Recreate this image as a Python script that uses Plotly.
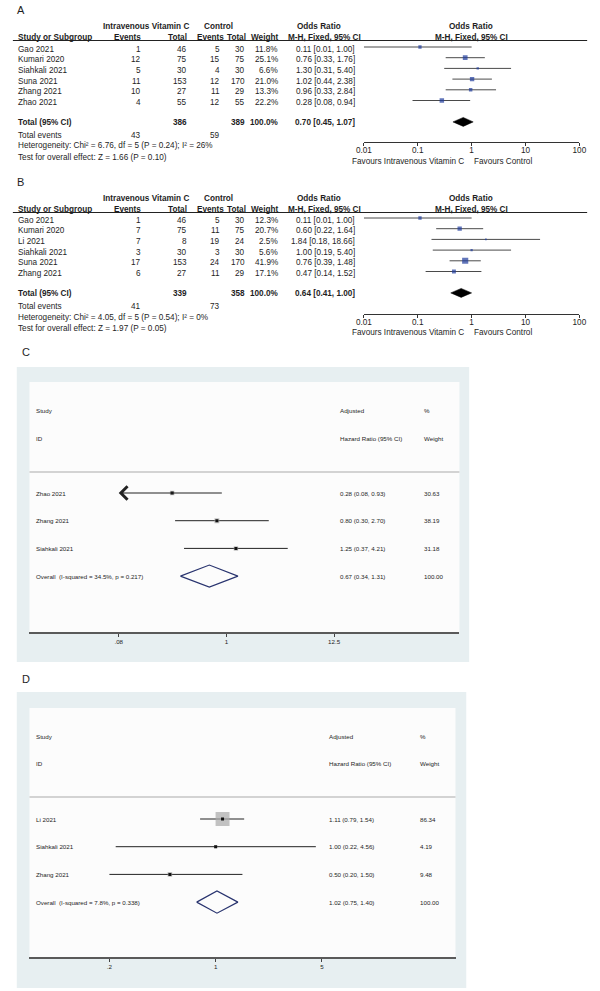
import math
import plotly.graph_objects as go

# ---------------- Panel A data ----------------
a_studies = ["Gao 2021", "Kumari 2020", "Siahkali 2021", "Suna 2021", "Zhang 2021", "Zhao 2021"]
a_iv_events = [1, 12, 5, 11, 10, 4]
a_iv_total = [46, 75, 30, 153, 27, 55]
a_ct_events = [5, 15, 4, 12, 11, 12]
a_ct_total = [30, 75, 30, 170, 29, 55]
a_weight = [11.8, 25.1, 6.6, 21.0, 13.3, 22.2]
a_or = [0.11, 0.76, 1.30, 1.02, 0.96, 0.28]
a_lo = [0.01, 0.33, 0.31, 0.44, 0.33, 0.08]
a_hi = [1.00, 1.76, 5.40, 2.38, 2.84, 0.94]
a_totals = [386, 389]
a_total_weight = 100.0
a_pooled = [0.70, 0.45, 1.07]
a_total_events = [43, 59]
a_het = "Heterogeneity: Chi² = 6.76, df = 5 (P = 0.24); I² = 26%"
a_test = "Test for overall effect: Z = 1.66 (P = 0.10)"

# ---------------- Panel B data ----------------
b_studies = ["Gao 2021", "Kumari 2020", "Li 2021", "Siahkali 2021", "Suna 2021", "Zhang 2021"]
b_iv_events = [1, 7, 7, 3, 17, 6]
b_iv_total = [46, 75, 8, 30, 153, 27]
b_ct_events = [5, 11, 19, 3, 24, 11]
b_ct_total = [30, 75, 24, 30, 170, 29]
b_weight = [12.3, 20.7, 2.5, 5.6, 41.9, 17.1]
b_or = [0.11, 0.60, 1.84, 1.00, 0.76, 0.47]
b_lo = [0.01, 0.22, 0.18, 0.19, 0.39, 0.14]
b_hi = [1.00, 1.64, 18.66, 5.40, 1.48, 1.52]
b_totals = [339, 358]
b_total_weight = 100.0
b_pooled = [0.64, 0.41, 1.00]
b_total_events = [41, 73]
b_het = "Heterogeneity: Chi² = 4.05, df = 5 (P = 0.54); I² = 0%"
b_test = "Test for overall effect: Z = 1.97 (P = 0.05)"

rm_ticks = [0.01, 0.1, 1, 10, 100]
rm_ticktext = ["0.01", "0.1", "1", "10", "100"]

# ---------------- Panel C data ----------------
c_studies = ["Zhao 2021", "Zhang 2021", "Siahkali 2021"]
c_hr = [0.28, 0.80, 1.25]
c_lo = [0.08, 0.30, 0.37]
c_hi = [0.93, 2.70, 4.21]
c_weight = [30.63, 38.19, 31.18]
c_left_arrow = [True, False, False]
c_overall_label = "Overall\u00a0\u00a0(I-squared = 34.5%, p = 0.217)"
c_pooled = [0.67, 0.34, 1.31]
c_overall_weight = 100.00
c_ticks = [0.08, 1, 12.5]
c_ticktext = [".08", "1", "12.5"]

# ---------------- Panel D data ----------------
d_studies = ["Li 2021", "Siahkali 2021", "Zhang 2021"]
d_hr = [1.11, 1.00, 0.50]
d_lo = [0.79, 0.22, 0.20]
d_hi = [1.54, 4.56, 1.50]
d_weight = [86.34, 4.19, 9.48]
d_left_arrow = [False, False, False]
d_overall_label = "Overall\u00a0\u00a0(I-squared = 7.8%, p = 0.338)"
d_pooled = [1.02, 0.75, 1.40]
d_overall_weight = 100.00
d_ticks = [0.2, 1, 5]
d_ticktext = [".2", "1", "5"]

# ---------------- helpers ----------------
W, H = 600, 991
FONT = "Liberation Sans, Arial, sans-serif"
TXT = "#1e1e1e"
BLUE = "#1f3c9c"
FS = 8.2
FS2 = 6.2


def X(p):
    return p / W


def Y(p):
    return 1 - p / H


fig = go.Figure()
ann = []
shapes = []
axes = {}


def txt(x, y, s, size=FS, anchor="left", bold=False, xref="paper", yref="paper", yshift=0):
    if bold:
        s = "<b>" + s + "</b>"
    ann.append(dict(x=x, y=y, xref=xref, yref=yref, text=s, showarrow=False,
                    xanchor=anchor, yanchor="middle", yshift=yshift,
                    font=dict(family=FONT, size=size, color=TXT)))


def names(n):
    s = "" if n == 1 else str(n)
    return "x" + s, "y" + s, "xaxis" + s, "yaxis" + s


def revman(n, g, label, studies, ie, it, ce, ct, wt, orv, lo, hi, tot, totw, pooled, tev, het, test):
    xr, yr, xk, yk = names(n)
    top = (g["line"] - g["row0"]) / g["step"]
    bot = (g["axis"] - g["row0"]) / g["step"]
    axes[xk] = dict(domain=[X(365), X(586)], type="log", range=[-2, 2], anchor=yr,
                    tickvals=rm_ticks, ticktext=rm_ticktext, ticks="outside", ticklen=3,
                    tickcolor="#333", showline=True, linecolor="#333", linewidth=1,
                    showgrid=False, zeroline=False, ticklabelstandoff=-3,
                    tickfont=dict(family=FONT, size=FS, color=TXT))
    axes[yk] = dict(domain=[Y(g["axis"]), Y(g["line"])], range=[bot, top], visible=False)
    nrow = len(studies)
    pr = nrow + 1
    xs, ys = [], []
    for i in range(nrow):
        xs += [lo[i], hi[i], None]
        ys += [i, i, None]
    fig.add_trace(go.Scatter(x=xs, y=ys, mode="lines", line=dict(color="#4a4a4a", width=1),
                             xaxis=xr, yaxis=yr, hoverinfo="skip"))
    fig.add_trace(go.Scatter(x=orv, y=list(range(nrow)), mode="markers",
                             marker=dict(symbol="square", color=BLUE, line=dict(width=0),
                                         size=[max(1.8, 0.95 * math.sqrt(w)) for w in wt]),
                             xaxis=xr, yaxis=yr, hoverinfo="skip"))
    e, l, h = pooled
    dh = 0.42
    fig.add_trace(go.Scatter(x=[l, e, h, e, l], y=[pr, pr - dh, pr, pr + dh, pr], mode="lines",
                             fill="toself", fillcolor="black", line=dict(color="black", width=0.5),
                             xaxis=xr, yaxis=yr, hoverinfo="skip"))
    shapes.append(dict(type="line", xref=xr, yref=yr + " domain", x0=0, x1=0, y0=0, y1=1,
                       line=dict(color="#222", width=1)))
    shapes.append(dict(type="line", xref="paper", yref="paper", x0=X(5), x1=X(594),
                       y0=Y(g["line"]), y1=Y(g["line"]), line=dict(color="#222", width=1)))
    txt(X(7), Y(g["label"]), label, size=11)
    h1 = Y(g["h1"])
    txt(X(142), h1, "Intravenous Vitamin C", anchor="center", bold=True)
    txt(X(216), h1, "Control", anchor="center", bold=True)
    txt(X(319), h1, "Odds Ratio", anchor="center", bold=True)
    txt(X(475), h1, "Odds Ratio", anchor="center", bold=True)
    h2 = Y(g["h2"])
    txt(X(8), h2, "Study or Subgroup", bold=True)
    txt(X(138), h2, "Events", anchor="right", bold=True)
    txt(X(186), h2, "Total", anchor="right", bold=True)
    txt(X(224), h2, "Events", anchor="right", bold=True)
    txt(X(246), h2, "Total", anchor="right", bold=True)
    txt(X(279), h2, "Weight", anchor="right", bold=True)
    txt(X(325), h2, "M-H, Fixed, 95% CI", anchor="center", bold=True)
    txt(X(475), h2, "M-H, Fixed, 95% CI", anchor="center", bold=True)
    for i in range(nrow):
        kw = dict(xref="paper", yref=yr, yshift=-2)
        txt(X(8), i, studies[i], **kw)
        txt(X(138), i, str(ie[i]), anchor="right", **kw)
        txt(X(186), i, str(it[i]), anchor="right", **kw)
        txt(X(220), i, str(ce[i]), anchor="right", **kw)
        txt(X(245), i, str(ct[i]), anchor="right", **kw)
        txt(X(279), i, f"{wt[i]:.1f}%", anchor="right", **kw)
        txt(X(358), i, f"{orv[i]:.2f} [{lo[i]:.2f}, {hi[i]:.2f}]", anchor="right", **kw)
    kw = dict(xref="paper", yref=yr, yshift=-1)
    txt(X(8), pr, "Total (95% CI)", bold=True, **kw)
    txt(X(186), pr, str(tot[0]), anchor="right", bold=True, **kw)
    txt(X(245), pr, str(tot[1]), anchor="right", bold=True, **kw)
    txt(X(279), pr, f"{totw:.1f}%", anchor="right", bold=True, **kw)
    txt(X(358), pr, f"{e:.2f} [{l:.2f}, {h:.2f}]", anchor="right", bold=True, **kw)
    txt(X(8), Y(g["tev"]), "Total events")
    txt(X(138), Y(g["tev"]), str(tev[0]), anchor="right")
    txt(X(220), Y(g["tev"]), str(tev[1]), anchor="right")
    txt(X(8), Y(g["het"]), het)
    txt(X(8), Y(g["test"]), test)
    txt(X(410), Y(g["fav"]), "Favours Intravenous Vitamin C", anchor="center")
    txt(X(508), Y(g["fav"]), "Favours Control", anchor="center")


def stata(n, g, label, studies, hr, lo, hi, wt, arrows, overall, pooled, ow, ticks, ticktext):
    xr, yr, xk, yk = names(n)
    top = (g["sep"] - g["row0"]) / g["step"]
    bot = (g["axis"] - g["row0"]) / g["step"]
    axes[xk] = dict(domain=[X(g["inner"][0]), X(g["inner"][2])], type="log", range=g["xrange"],
                    anchor=yr, tickvals=ticks, ticktext=ticktext, ticks="outside", ticklen=3,
                    tickcolor="#444", tickwidth=1, showline=True, linecolor="#5a5a5a", linewidth=1.5,
                    showgrid=False, zeroline=False,
                    tickfont=dict(family=FONT, size=FS2, color=TXT))
    axes[yk] = dict(domain=[Y(g["axis"]), Y(g["sep"])], range=[bot, top], visible=False)
    o = g["outer"]
    inn = g["inner"]
    shapes.append(dict(type="rect", xref="paper", yref="paper", x0=X(o[0]), x1=X(o[2]),
                       y0=Y(o[3]), y1=Y(o[1]), fillcolor="#e7eff1", line=dict(width=0), layer="below"))
    shapes.append(dict(type="rect", xref="paper", yref="paper", x0=X(inn[0]), x1=X(inn[2]),
                       y0=Y(inn[3]), y1=Y(inn[1]), fillcolor="#fcfcfc", line=dict(width=0), layer="below"))
    shapes.append(dict(type="line", xref="paper", yref="paper", x0=X(inn[0]), x1=X(inn[2]),
                       y0=Y(g["sep"]), y1=Y(g["sep"]), line=dict(color="#d3d3d3", width=1.8), layer="below"))
    shapes.append(dict(type="line", xref=xr, yref=yr + " domain", x0=0, x1=0, y0=0, y1=1,
                       line=dict(color="#666", width=1.4), layer="below"))
    e, l, h = pooled
    shapes.append(dict(type="line", xref=xr, yref=yr + " domain", x0=math.log10(e), x1=math.log10(e),
                       y0=0, y1=1, line=dict(color="#cc2a36", width=1, dash="2px,2px"), layer="below"))
    nrow = len(studies)
    xs, ys = [], []
    for i in range(nrow):
        if arrows[i]:
            ann.append(dict(x=math.log10(ticks[0]), y=i, xref=xr, yref=yr, axref=xr, ayref=yr,
                            ax=math.log10(hi[i]), ay=i, text="", showarrow=True, arrowhead=4,
                            arrowsize=2.6, arrowwidth=1, arrowcolor="#222", standoff=0))
        else:
            xs += [lo[i], hi[i], None]
            ys += [i, i, None]
    fig.add_trace(go.Scatter(x=xs, y=ys, mode="lines", line=dict(color="#222", width=1),
                             xaxis=xr, yaxis=yr, hoverinfo="skip"))
    fig.add_trace(go.Scatter(x=hr, y=list(range(nrow)), mode="markers",
                             marker=dict(symbol="square", color="#a9a9a9", line=dict(width=0),
                                         size=[g["box"] * math.sqrt(w) for w in wt]),
                             xaxis=xr, yaxis=yr, hoverinfo="skip"))
    fig.add_trace(go.Scatter(x=hr, y=list(range(nrow)), mode="markers",
                             marker=dict(symbol="square", color="#111", size=3, line=dict(width=0)),
                             xaxis=xr, yaxis=yr, hoverinfo="skip"))
    pr = nrow
    dh = 0.4
    fig.add_trace(go.Scatter(x=[l, e, h, e, l], y=[pr, pr - dh, pr, pr + dh, pr], mode="lines",
                             line=dict(color="#29346f", width=1.2), xaxis=xr, yaxis=yr, hoverinfo="skip"))
    txt(X(12), Y(g["label"]), label, size=11)
    txt(X(27), Y(g["h1"]), "Study", size=FS2)
    txt(X(27), Y(g["h2"]), "ID", size=FS2)
    txt(X(g["es_x"]), Y(g["h1"]), "Adjusted", size=FS2)
    txt(X(g["es_x"]), Y(g["h2"]), "Hazard Ratio (95% CI)", size=FS2)
    txt(X(g["wt_x"]), Y(g["h1"]), "%", size=FS2)
    txt(X(g["wt_x"]), Y(g["h2"]), "Weight", size=FS2)
    for i in range(nrow):
        txt(X(27), i, studies[i], size=FS2, yref=yr)
        txt(X(g["es_x"]), i, f"{hr[i]:.2f} ({lo[i]:.2f}, {hi[i]:.2f})", size=FS2, yref=yr)
        txt(X(g["wt_x"]), i, f"{wt[i]:.2f}", size=FS2, yref=yr)
    txt(X(27), pr, overall, size=FS2, yref=yr)
    txt(X(g["es_x"]), pr, f"{e:.2f} ({l:.2f}, {h:.2f})", size=FS2, yref=yr)
    txt(X(g["wt_x"]), pr, f"{ow:.2f}", size=FS2, yref=yr)


geoA = dict(label=10, h1=26, h2=37, line=40.5, row0=47, step=10.7, axis=142, tev=135, het=146,
            test=157, fav=161)
geoB = dict(label=182, h1=198, h2=209, line=212.5, row0=218, step=10.7, axis=314, tev=306, het=317,
            test=329, fav=332)
geoC = dict(label=352, outer=(9, 367, 473, 662), inner=(22, 382, 463, 632), sep=472, row0=493,
            step=27.7, axis=632, xrange=[-2.006, 2.373], h1=410, h2=438, es_x=338, wt_x=425, box=0.8)
geoD = dict(label=679, outer=(9, 692, 470, 988), inner=(22, 708, 459, 957), sep=797, row0=819,
            step=27.7, axis=957, xrange=[-1.225, 1.578], h1=736, h2=763, es_x=327, wt_x=420, box=1.5)

revman(1, geoA, "A", a_studies, a_iv_events, a_iv_total, a_ct_events, a_ct_total, a_weight,
       a_or, a_lo, a_hi, a_totals, a_total_weight, a_pooled, a_total_events, a_het, a_test)
revman(2, geoB, "B", b_studies, b_iv_events, b_iv_total, b_ct_events, b_ct_total, b_weight,
       b_or, b_lo, b_hi, b_totals, b_total_weight, b_pooled, b_total_events, b_het, b_test)
stata(3, geoC, "C", c_studies, c_hr, c_lo, c_hi, c_weight, c_left_arrow, c_overall_label,
      c_pooled, c_overall_weight, c_ticks, c_ticktext)
stata(4, geoD, "D", d_studies, d_hr, d_lo, d_hi, d_weight, d_left_arrow, d_overall_label,
      d_pooled, d_overall_weight, d_ticks, d_ticktext)

fig.update_layout(width=W, height=H, margin=dict(l=0, r=0, t=0, b=0), showlegend=False,
                  paper_bgcolor="white", plot_bgcolor="rgba(0,0,0,0)", hovermode=False,
                  annotations=ann, shapes=shapes, **axes)
fig.write_html("out.html", config={"displayModeBar": False, "staticPlot": True},
               post_script="document.body.style.margin='0';document.body.style.overflow='hidden';")
